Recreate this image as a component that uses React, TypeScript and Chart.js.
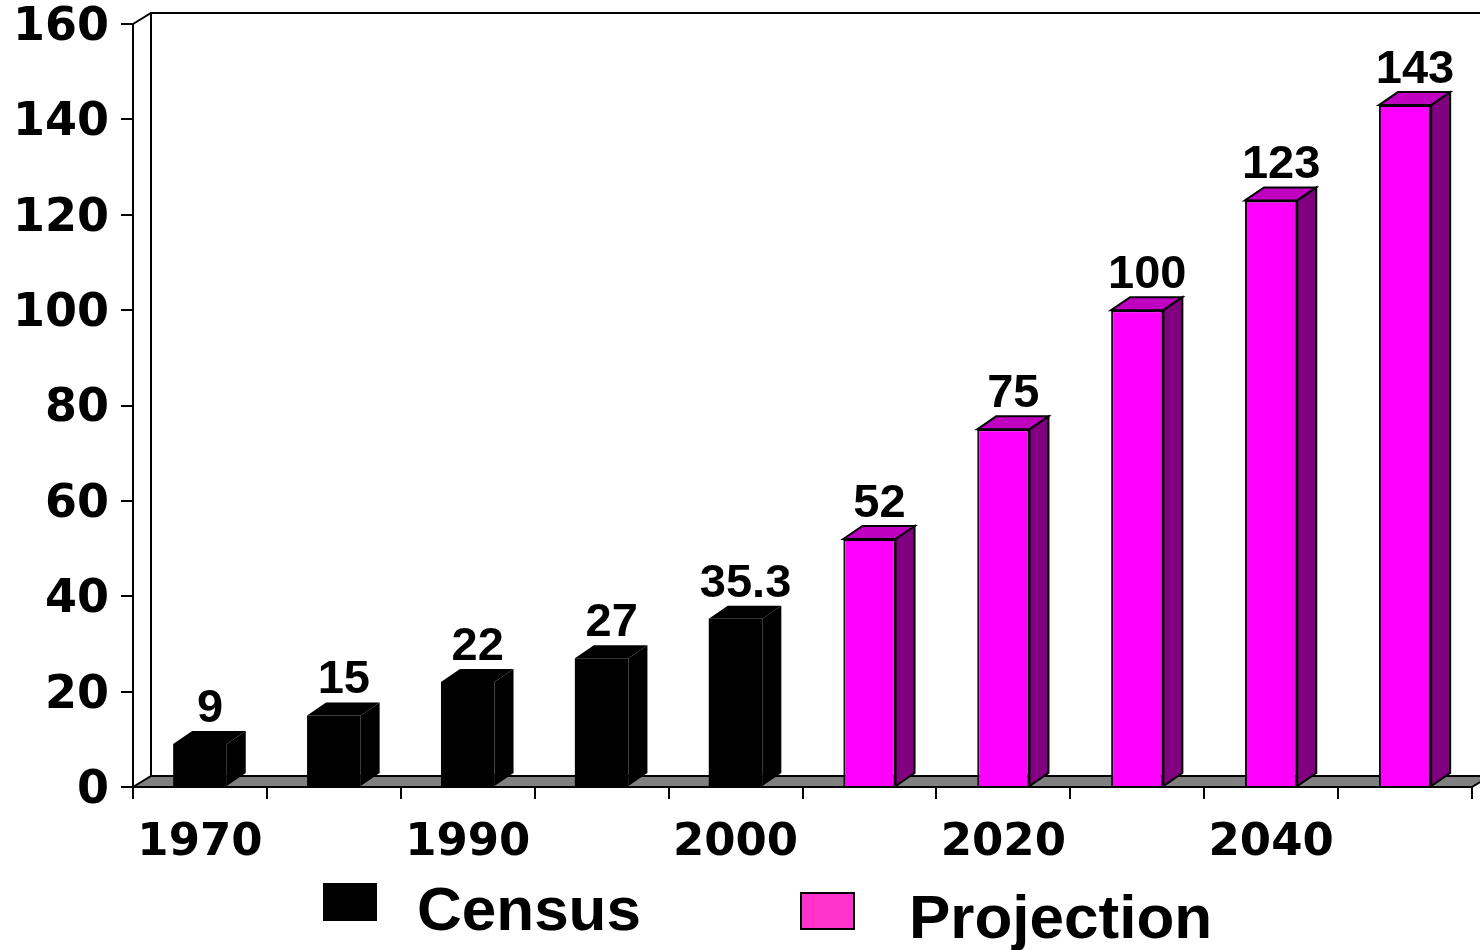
import React, { useEffect, useRef } from "react";
import { Chart, registerables } from "chart.js";

Chart.register(...registerables);

// ---- data ----
const categories = ["1970", "1980", "1990", "1995", "2000", "2010", "2020", "2030", "2040", "2050"];
const xTickLabels = ["1970", "", "1990", "", "2000", "", "2020", "", "2040", ""];
const censusValues = [9, 15, 22, 27, 35.3, null, null, null, null, null];
const projectionValues = [null, null, null, null, null, 52, 75, 100, 123, 143];
const seriesNames = ["Census", "Projection"];
const yMin = 0;
const yMax = 160;
const yStep = 20;

// ---- styles ----
const frontColors = ["#000000", "#FF00FF"];
const sideColors = ["#000000", "#800080"];
const topColors = ["#000000", "#C000C0"];
const legendColors = ["#000000", "#FF33CC"];
const DX = 19;
const DY = 13;
const WDX = 18;
const WDY = 11;

const threeD = {
  id: "threeD",
  beforeDatasetsDraw(chart: any) {
    const { ctx, chartArea } = chart;
    const { left, top, right, bottom } = chartArea;
    ctx.save();
    ctx.strokeStyle = "#000";
    ctx.lineWidth = 2;
    // back wall
    ctx.beginPath();
    ctx.moveTo(left, top);
    ctx.lineTo(left + WDX, top - WDY);
    ctx.lineTo(chart.width + 5, top - WDY);
    ctx.moveTo(left + WDX, top - WDY);
    ctx.lineTo(left + WDX, bottom - WDY);
    ctx.stroke();
    // floor
    ctx.beginPath();
    ctx.moveTo(left, bottom);
    ctx.lineTo(left + WDX, bottom - WDY);
    ctx.lineTo(right + WDX, bottom - WDY);
    ctx.lineTo(right, bottom);
    ctx.closePath();
    ctx.fillStyle = "#808080";
    ctx.fill();
    ctx.stroke();
    // bar sides/tops
    chart.data.datasets.forEach((ds: any, di: number) => {
      const meta = chart.getDatasetMeta(di);
      meta.data.forEach((el: any, i: number) => {
        if (ds.data[i] == null) return;
        const p = el.getProps(["x", "y", "base", "width"], true);
        const x1 = p.x - p.width / 2;
        const x2 = p.x + p.width / 2;
        const yt = p.y;
        const yb = p.base;
        ctx.lineWidth = 2;
        // side
        ctx.beginPath();
        ctx.moveTo(x2, yt);
        ctx.lineTo(x2 + DX, yt - DY);
        ctx.lineTo(x2 + DX, yb - DY);
        ctx.lineTo(x2, yb);
        ctx.closePath();
        ctx.fillStyle = sideColors[di];
        ctx.fill();
        if (di !== 0) ctx.stroke();
        // top
        ctx.beginPath();
        ctx.moveTo(x1, yt);
        ctx.lineTo(x1 + DX, yt - DY);
        ctx.lineTo(x2 + DX, yt - DY);
        ctx.lineTo(x2, yt);
        ctx.closePath();
        ctx.fillStyle = topColors[di];
        ctx.fill();
        if (di !== 0) ctx.stroke();
      });
    });
    ctx.restore();
  },
  afterDatasetsDraw(chart: any) {
    const { ctx } = chart;
    ctx.save();
    ctx.fillStyle = "#000";
    ctx.font = "bold 47px 'Liberation Sans', Arial, sans-serif";
    ctx.textAlign = "center";
    ctx.textBaseline = "alphabetic";
    chart.data.datasets.forEach((ds: any, di: number) => {
      const meta = chart.getDatasetMeta(di);
      meta.data.forEach((el: any, i: number) => {
        const v = ds.data[i];
        if (v == null) return;
        const p = el.getProps(["x", "y"], true);
        ctx.fillText(String(v), p.x + 10, p.y - DY - 9);
      });
    });
    ctx.restore();
  },
  afterDraw(chart: any) {
    const { ctx } = chart;
    ctx.save();
    ctx.font = "bold 62px 'Liberation Sans', Arial, sans-serif";
    ctx.textBaseline = "alphabetic";
    ctx.textAlign = "left";
    // Census
    ctx.fillStyle = legendColors[0];
    ctx.fillRect(323, 883, 54, 38);
    ctx.fillStyle = "#000";
    ctx.fillText(chart.data.datasets[0].label, 417, 930);
    // Projection
    ctx.fillStyle = legendColors[1];
    ctx.fillRect(801, 893, 53, 36);
    ctx.strokeStyle = "#000";
    ctx.lineWidth = 2;
    ctx.strokeRect(801, 893, 53, 36);
    ctx.fillStyle = "#000";
    ctx.fillText(chart.data.datasets[1].label, 909, 938);
    ctx.restore();
  },
};

export default function App() {
  const ref = useRef<HTMLCanvasElement>(null);
  useEffect(() => {
    if (!ref.current) return;
    const chart = new Chart(ref.current, {
      type: "bar",
      data: {
        labels: categories,
        datasets: [
          {
            label: seriesNames[0],
            data: censusValues,
            backgroundColor: frontColors[0],
            borderColor: "#000",
            borderWidth: 0,
            barPercentage: 0.4,
            categoryPercentage: 1,
          },
          {
            label: seriesNames[1],
            data: projectionValues,
            backgroundColor: frontColors[1],
            borderColor: "#000",
            borderWidth: 2,
            barPercentage: 0.39,
            categoryPercentage: 1,
          },
        ],
      },
      options: {
        responsive: false,
        animation: false,
        layout: { padding: { top: 24, right: 8, left: 0, bottom: 0 } },
        plugins: { legend: { display: false }, tooltip: { enabled: false } },
        scales: {
          x: {
            stacked: true,
            afterFit: (s: any) => {
              s.height = 163;
            },
            grid: { drawOnChartArea: false, drawTicks: true, tickLength: 12, color: "#000", lineWidth: 2, offset: true },
            border: { display: true, color: "#000", width: 2 },
            ticks: {
              autoSkip: false,
              maxRotation: 0,
              padding: 17,
              color: "#000",
              font: { family: "'DejaVu Sans', Verdana, sans-serif", weight: "bold", size: 45 },
              callback: (_v: any, i: number) => xTickLabels[i],
            },
          },
          y: {
            stacked: true,
            min: yMin,
            max: yMax,
            afterFit: (s: any) => {
              s.width = 133;
            },
            grid: { drawOnChartArea: false, drawTicks: true, tickLength: 12, color: "#000", lineWidth: 2 },
            border: { display: true, color: "#000", width: 2 },
            ticks: {
              stepSize: yStep,
              padding: 12,
              labelOffset: 4,
              color: "#000",
              font: { family: "'DejaVu Sans', Verdana, sans-serif", weight: "bold", size: 46, lineHeight: 0.5 },
            },
          },
        },
      },
      plugins: [threeD],
    });
    return () => chart.destroy();
  }, []);
  return (
    <canvas
      ref={ref}
      width={1480}
      height={950}
      style={{ position: "fixed", left: 0, top: 0, width: 1480, height: 950, display: "block", background: "#fff" }}
    />
  );
}
